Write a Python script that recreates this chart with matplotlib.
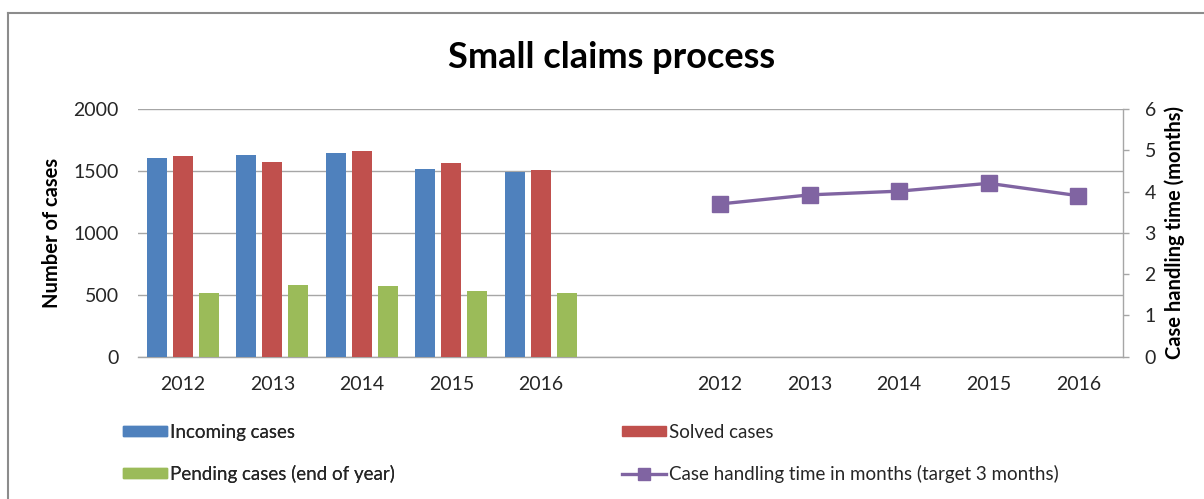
import matplotlib
matplotlib.use("Agg")
import matplotlib.pyplot as plt
from matplotlib.lines import Line2D
from matplotlib.patches import Patch
import numpy as np

years = ["2012", "2013", "2014", "2015", "2016"]
incoming = [1604, 1631, 1647, 1515, 1494]
solved = [1620, 1569, 1658, 1561, 1505]
pending = [516, 578, 570, 527, 511]
handling_time = [3.70, 3.92, 4.01, 4.20, 3.90]

tick_labels = years + [""] + years

c_blue = "#4F81BD"
c_red = "#C0504D"
c_green = "#9BBB59"
c_purple = "#8064A2"
grid_c = "#A6A6A6"
txt_c = "#262626"

plt.rcParams['font.family'] = ['Lato', 'DejaVu Sans']

W, H = 1204, 499
fig = plt.figure(figsize=(W / 100, H / 100), dpi=100)

L, R, T, B = 138, 1123, 109, 356.7
ax = fig.add_axes([L / W, 1 - B / H, (R - L) / W, (B - T) / H])

n_slots = len(tick_labels)
bar_x = np.arange(len(years))
line_x = np.arange(len(years)) + len(years) + 1

bw = 0.223
step = 0.29
ax.bar(bar_x - step, incoming, width=bw, color=c_blue, zorder=3)
ax.bar(bar_x, solved, width=bw, color=c_red, zorder=3)
ax.bar(bar_x + step, pending, width=bw, color=c_green, zorder=3)

ax.set_xlim(-0.5, n_slots - 0.5)
ax.set_ylim(0, 2000)
ax.set_yticks([0, 500, 1000, 1500, 2000])
ax.set_xticks(np.arange(n_slots))
ax.set_xticklabels(tick_labels)
ax.yaxis.grid(True, color=grid_c, linewidth=1.0, zorder=0)
ax.set_axisbelow(True)
for s in ["left", "top", "right"]:
    ax.spines[s].set_visible(False)
ax.spines["bottom"].set_color(grid_c)
ax.spines["bottom"].set_linewidth(1.0)
ax.tick_params(axis="x", length=0, pad=14, labelsize=14, colors=txt_c)
ax.tick_params(axis="y", length=0, pad=14, labelsize=14, colors=txt_c)
ax.set_ylabel("Number of cases", fontsize=14.5, fontweight="bold", color="black", labelpad=8)

ax2 = ax.twinx()
ax2.plot(line_x, handling_time, color=c_purple, linewidth=2.4, marker="s",
         markersize=12, markerfacecolor=c_purple, markeredgecolor=c_purple, zorder=4)
ax2.set_ylim(0, 6)
ax2.set_yticks(range(0, 7))
for s in ["left", "top", "bottom"]:
    ax2.spines[s].set_visible(False)
ax2.spines["right"].set_color(grid_c)
ax2.spines["right"].set_linewidth(1.0)
ax2.tick_params(axis="y", direction="out", length=4.5, width=1.0, color=grid_c,
                labelsize=14, labelcolor=txt_c, pad=11)
ax2.set_ylabel("Case handling time (months)", fontsize=14.5, fontweight="bold",
               color="black", labelpad=6)

fig.text(612 / W, 1 - 57 / H, "Small claims process", ha="center", va="center",
         fontsize=26, fontweight="bold", color="black")

# Figure border (left & top edges visible)
fig.add_artist(Line2D([8 / W, 8 / W], [0, 1 - 13 / H], transform=fig.transFigure,
                      color="#8C8C8C", linewidth=1.5))
fig.add_artist(Line2D([8 / W, 1], [1 - 13 / H, 1 - 13 / H], transform=fig.transFigure,
                      color="#8C8C8C", linewidth=1.5))

h_inc = Patch(facecolor=c_blue, edgecolor=c_blue)
h_sol = Patch(facecolor=c_red, edgecolor=c_red)
h_pen = Patch(facecolor=c_green, edgecolor=c_green)
h_line = Line2D([], [], color=c_purple, linewidth=2.4, marker="s", markersize=9)

leg_kw = dict(frameon=False, fontsize=13.5, handlelength=2.35, handleheight=0.45,
              handletextpad=0.16, labelspacing=1.28, borderpad=0, borderaxespad=0,
              labelcolor=txt_c)
leg1 = fig.legend([h_inc, h_pen], ["Incoming cases", "Pending cases (end of year)"],
                  loc="upper left", bbox_to_anchor=(123 / W, 1 - 424 / H), **leg_kw)
fig.add_artist(leg1)
leg2 = fig.legend([h_sol, h_line], ["Solved cases", "Case handling time in months (target 3 months)"],
                  loc="upper left", bbox_to_anchor=(622 / W, 1 - 424 / H), **leg_kw)

fig.savefig("out.png", dpi=100, facecolor="white")
